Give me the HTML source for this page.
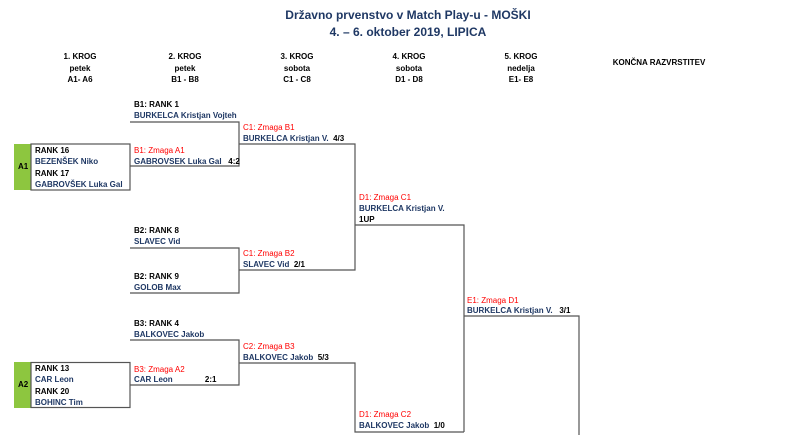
<!DOCTYPE html>
<html><head><meta charset="utf-8"><style>
body{margin:0;width:800px;height:435px;background:#fff;position:relative;overflow:hidden;font-family:"Liberation Sans",Arial,sans-serif;}
.t{position:absolute;font-size:8px;font-weight:bold;white-space:nowrap;line-height:11px;color:#000;}
.n{color:#1f3864}.r{color:#f00;font-weight:normal}
.h{position:absolute;font-size:8px;font-weight:bold;text-align:center;width:80px;line-height:11.5px;}
.ti{position:absolute;left:0;width:816px;text-align:center;font-weight:bold;color:#1f3864;font-size:12px;}
svg{position:absolute;left:0;top:0}
</style></head><body>
<div class="ti" style="top:8px">Državno prvenstvo v Match Play-u - MOŠKI</div>
<div class="ti" style="top:25px">4. – 6. oktober 2019, LIPICA</div>
<div class="h" style="left:40px;top:51px">1. KROG<br>petek<br>A1- A6</div>
<div class="h" style="left:145px;top:51px">2. KROG<br>petek<br>B1 - B8</div>
<div class="h" style="left:257px;top:51px">3. KROG<br>sobota<br>C1 - C8</div>
<div class="h" style="left:369px;top:51px">4. KROG<br>sobota<br>D1 - D8</div>
<div class="h" style="left:481px;top:51px">5. KROG<br>nedelja<br>E1- E8</div>
<div class="h" style="left:609px;top:57px;width:100px">KONČNA RAZVRSTITEV</div>
<svg width="800" height="435">
<rect x="14" y="144" width="17" height="46" fill="#8dc63f"/>
<rect x="14" y="362" width="17" height="46" fill="#8dc63f"/>
<g stroke="#555" stroke-width="1.2" fill="none">
<rect x="31" y="144" width="99" height="46"/>
<rect x="31" y="362.5" width="99" height="45"/>
<path d="M130 122H239V166H130M239 144H355V270H239V248H130M239 270V293H130M355 225H464V432M130 340H239V385H130M239 363H355V432H464M464 316H579V435"/>
</g>
</svg>
<div class="t" style="left:18px;top:161px">A1</div>
<div class="t" style="left:18px;top:379px">A2</div>
<div class="t" style="left:35px;top:145px">RANK 16</div>
<div class="t n" style="left:35px;top:156px">BEZENŠEK Niko</div>
<div class="t" style="left:35px;top:168px">RANK 17</div>
<div class="t n" style="left:35px;top:179px">GABROVŠEK Luka Gal</div>
<div class="t" style="left:35px;top:363px">RANK 13</div>
<div class="t n" style="left:35px;top:374px">CAR Leon</div>
<div class="t" style="left:35px;top:386px">RANK 20</div>
<div class="t n" style="left:35px;top:397px">BOHINC Tim</div>
<div class="t" style="left:134px;top:99px">B1: RANK 1</div>
<div class="t n" style="left:134px;top:110px">BURKELCA Kristjan Vojteh</div>
<div class="t r" style="left:134px;top:145px">B1: Zmaga A1</div>
<div class="t n" style="left:134px;top:156px">GABROVSEK Luka Gal <span style="color:#000">&nbsp;&nbsp;4:2</span></div>
<div class="t" style="left:134px;top:225px">B2: RANK 8</div>
<div class="t n" style="left:134px;top:236px">SLAVEC Vid</div>
<div class="t" style="left:134px;top:271px">B2: RANK 9</div>
<div class="t n" style="left:134px;top:282px">GOLOB Max</div>
<div class="t" style="left:134px;top:318px">B3: RANK 4</div>
<div class="t n" style="left:134px;top:329px">BALKOVEC Jakob</div>
<div class="t r" style="left:134px;top:364px">B3: Zmaga A2</div>
<div class="t n" style="left:134px;top:374px">CAR Leon <span style="color:#000;margin-left:30px">2:1</span></div>
<div class="t r" style="left:243px;top:122px">C1: Zmaga B1</div>
<div class="t n" style="left:243px;top:133px">BURKELCA Kristjan V. <span style="color:#000">&nbsp;4/3</span></div>
<div class="t r" style="left:243px;top:248px">C1: Zmaga B2</div>
<div class="t n" style="left:243px;top:259px">SLAVEC Vid <span style="color:#000">&nbsp;2/1</span></div>
<div class="t r" style="left:243px;top:341px">C2: Zmaga B3</div>
<div class="t n" style="left:243px;top:352px">BALKOVEC Jakob <span style="color:#000">&nbsp;5/3</span></div>
<div class="t r" style="left:359px;top:192px">D1: Zmaga C1</div>
<div class="t n" style="left:359px;top:203px">BURKELCA Kristjan V.</div>
<div class="t" style="left:359px;top:214px">1UP</div>
<div class="t r" style="left:359px;top:409px">D1: Zmaga C2</div>
<div class="t n" style="left:359px;top:420px">BALKOVEC Jakob <span style="color:#000">&nbsp;1/0</span></div>
<div class="t r" style="left:467px;top:295px">E1: Zmaga D1</div>
<div class="t n" style="left:467px;top:305px">BURKELCA Kristjan V. <span style="color:#000">&nbsp;&nbsp;3/1</span></div>
</body></html>
